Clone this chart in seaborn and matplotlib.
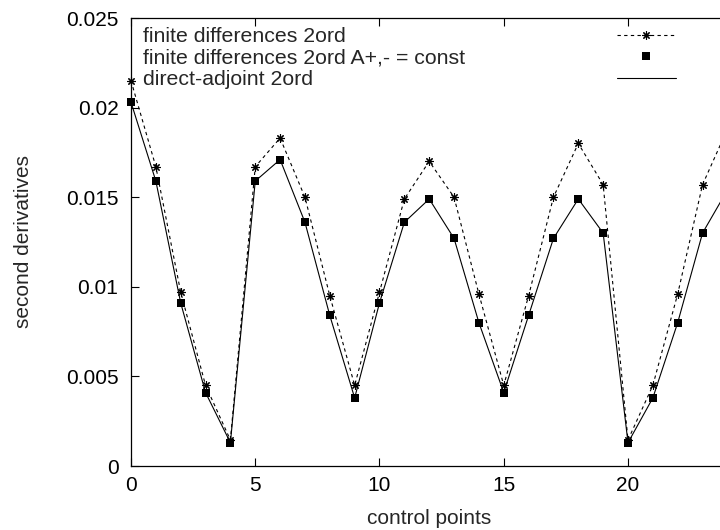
import numpy as np
import pandas as pd
import matplotlib
matplotlib.use("Agg")
import matplotlib.pyplot as plt
from matplotlib.lines import Line2D
import seaborn as sns

# control point index
control_points = list(range(25))

# finite differences, 2nd order
fd_2ord = [0.0215, 0.0167, 0.0097, 0.0045, 0.00145, 0.0167, 0.0183, 0.0150,
           0.0095, 0.0045, 0.0097, 0.0149, 0.0170, 0.0150, 0.0096, 0.0045,
           0.0095, 0.0150, 0.0180, 0.0157, 0.00145, 0.0045, 0.0096, 0.0157,
           0.0188]

# finite differences, 2nd order with A+,- held constant
fd_2ord_const = [0.0203, 0.0159, 0.0091, 0.0041, 0.0013, 0.0159, 0.0171, 0.0136,
                 0.0084, 0.0038, 0.0091, 0.0136, 0.0149, 0.0127, 0.0080, 0.0041,
                 0.0084, 0.0127, 0.0149, 0.0130, 0.0013, 0.0038, 0.0080, 0.0130,
                 0.0154]

# direct-adjoint, 2nd order
adjoint_2ord = [0.0203, 0.0159, 0.0091, 0.0041, 0.0013, 0.0159, 0.0171, 0.0136,
                0.0084, 0.0038, 0.0091, 0.0136, 0.0149, 0.0127, 0.0080, 0.0041,
                0.0084, 0.0127, 0.0149, 0.0130, 0.0013, 0.0038, 0.0080, 0.0130,
                0.0154]

series_labels = ["finite differences 2ord",
                 "finite differences 2ord A+,- = const",
                 "direct-adjoint 2ord"]

x_ticks = [0, 5, 10, 15, 20]
y_ticks = [0, 0.005, 0.01, 0.015, 0.02, 0.025]
y_tick_labels = ["0", "0.005", "0.01", "0.015", "0.02", "0.025"]

sns.set_style("ticks")
plt.rcParams["font.family"] = ["Liberation Sans", "DejaVu Sans"]
plt.rcParams["font.size"] = 15

df = pd.DataFrame({"cp": control_points, "fd": fd_2ord,
                   "fdc": fd_2ord_const, "adj": adjoint_2ord})

fig = plt.figure(figsize=(7.2, 5.3), dpi=100)
ax = fig.add_axes([131 / 720, 64 / 530, 596.4 / 720, 448 / 530])

star = (8, 2, 0)
dash = (0, (3, 3))

sns.lineplot(data=df, x="cp", y="fd", ax=ax, color="black", lw=0.8,
             linestyle=dash, marker=star, markersize=6, markeredgewidth=0.8,
             markeredgecolor="black", estimator=None, sort=False,
             clip_on=False)
sns.lineplot(data=df, x="cp", y="adj", ax=ax, color="black", lw=0.8,
             estimator=None, sort=False)
sns.scatterplot(data=df, x="cp", y="fdc", ax=ax, color="black", marker="s",
                s=28, linewidth=0, zorder=3, clip_on=False)

ax.set_xlim(0, 24)
ax.set_ylim(0, 0.025)
ax.set_xticks(x_ticks)
ax.set_xticklabels([str(t) for t in x_ticks])
ax.set_yticks(y_ticks)
ax.set_yticklabels(y_tick_labels)
ax.tick_params(direction="in", length=6, width=0.8, top=True, right=False,
               labelsize=15, colors="black")
ax.tick_params(axis="y", pad=9)
ax.tick_params(axis="x", pad=7)
for sp in ax.spines.values():
    sp.set_visible(True)
    sp.set_color("black")
    sp.set_linewidth(0.9)

ax.set_xlabel("control points", fontsize=15, labelpad=10)
ax.set_ylabel("second derivatives", fontsize=15, labelpad=24)

# key: left-aligned titles on the left, line samples on the right
leg_kw = dict(loc="upper left", frameon=False, borderpad=0, borderaxespad=0,
              fontsize=15.3, labelspacing=0.11)
blank = [Line2D([], [], lw=0) for _ in series_labels]
key_text = ax.legend(blank, series_labels, bbox_to_anchor=(0.02, 0.979),
                     handlelength=0, handletextpad=0, **leg_kw)
ax.add_artist(key_text)

samples = [
    Line2D([], [], color="black", lw=0.8, linestyle=dash, marker=star,
           markersize=6, markeredgewidth=0.8),
    Line2D([], [], color="black", lw=0, marker="s", markersize=5.3,
           markeredgewidth=0),
    Line2D([], [], color="black", lw=0.8),
]
ax.legend(samples, [" "] * 3, bbox_to_anchor=((617 - 131) / 596.4, 0.979),
          handlelength=2.76, handletextpad=0, **leg_kw)

fig.savefig("out.png", dpi=100)
